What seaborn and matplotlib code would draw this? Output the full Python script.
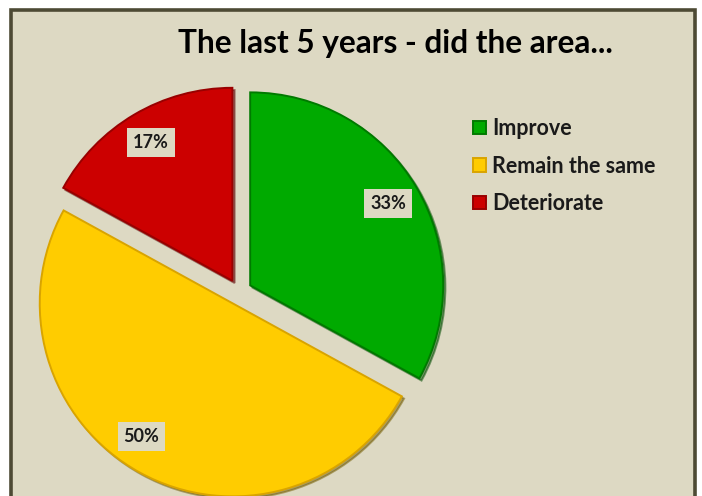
import matplotlib
matplotlib.use("Agg")
import matplotlib.pyplot as plt
from matplotlib.patches import Rectangle
import seaborn as sns

# Survey answers
categories = ["Improve", "Remain the same", "Deteriorate"]
shares = [33, 50, 17]
title = "The last 5 years - did the area..."

sns.set_theme(style="white")
plt.rcParams["font.family"] = ["Lato", "DejaVu Sans"]

fill_colors = sns.color_palette(["#00aa00", "#ffcc00", "#cc0000"])
edge_colors = ["#007a00", "#d9a400", "#990000"]
panel_color = "#ddd9c3"
border_color = "#4d4a34"

W, H = 702, 496
fig = plt.figure(figsize=(W / 100, H / 100), dpi=100)
fig.patch.set_facecolor("white")
ax = fig.add_axes([0, 0, 1, 1])

# chart panel with dark frame
ax.add_patch(Rectangle((10.5, -20), 684.5, 506, facecolor=panel_color,
                       edgecolor=border_color, linewidth=2.6, zorder=0))

wedges, _, pct_texts = ax.pie(
    shares,
    labels=None,
    colors=fill_colors,
    startangle=90,
    counterclock=False,
    center=(239, 204),
    radius=193,
    explode=[13, 13, 13],
    autopct="%1.0f%%",
    pctdistance=0.83,
    shadow={"ox": 1.6, "oy": -1.6, "shade": 0.55},
    wedgeprops=dict(linewidth=1.4),
)
for w, ec in zip(wedges, edge_colors):
    w.set_edgecolor(ec)

for t in pct_texts:
    t.set_fontsize(13)
    t.set_fontweight("bold")
    t.set_color("#1a1a1a")
    t.set_bbox(dict(boxstyle="square,pad=0.33", facecolor=panel_color,
                    edgecolor="none"))
# the large slice's label sits a little further round its arc
x50, y50 = pct_texts[1].get_position()
pct_texts[1].set_position((x50 - 14, y50 + 7))

ax.text(395, H - 44, title, ha="center", va="center", fontsize=22.8,
        fontweight="bold", color="black")

leg = ax.legend(wedges, categories, loc="upper left",
                bbox_to_anchor=(454 / W, 1 - 99 / H), frameon=False,
                handlelength=0.58, handleheight=0.58,
                handletextpad=0.3, labelspacing=0.76,
                prop={"weight": "bold", "size": 15.5})
for txt in leg.get_texts():
    txt.set_color("#1a1a1a")

ax.set_xlim(0, W)
ax.set_ylim(0, H)
ax.set_aspect("equal")
ax.set_axis_off()

fig.savefig("out.png", dpi=100, facecolor=fig.get_facecolor())
